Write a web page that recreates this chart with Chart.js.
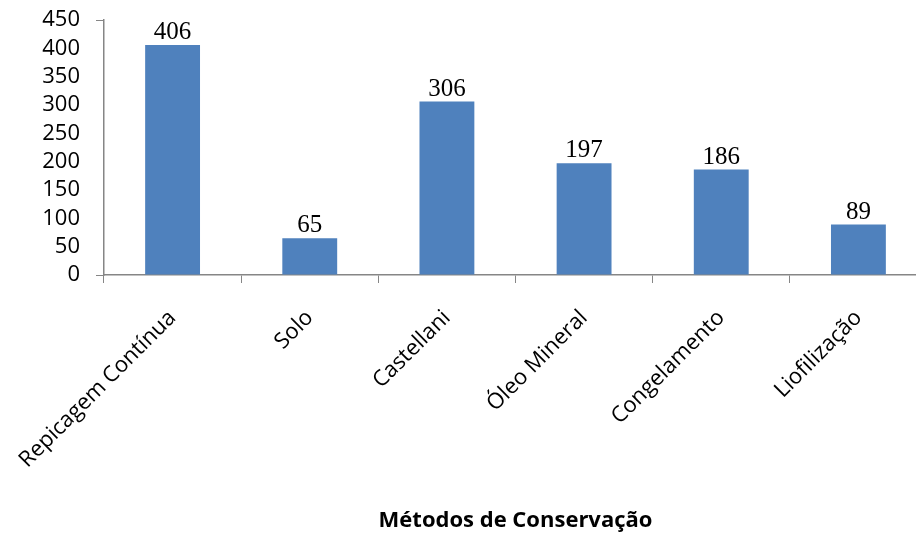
<!DOCTYPE html>
<html>
<head>
<meta charset="utf-8">
<script src="https://cdn.jsdelivr.net/npm/chart.js@4/dist/chart.umd.min.js"></script>
<style>
  html, body { margin: 0; padding: 0; background: #fff; overflow: hidden; }
  #wrap { width: 930px; height: 534px; }
</style>
</head>
<body>
<div id="wrap"><canvas id="grafico"></canvas></div>
<script>
const metodos = ['Repicagem Contínua', 'Solo', 'Castellani', 'Óleo Mineral', 'Congelamento', 'Liofilização'];
const quantidades = [406, 65, 306, 197, 186, 89];
const yTicks = [0, 50, 100, 150, 200, 250, 300, 350, 400, 450];
const tituloX = 'Métodos de Conservação';

const axisGray = '#868686';

// valores em cima das barras
const rotulos = {
  id: 'rotulos',
  afterDatasetsDraw(chart) {
    const ctx = chart.ctx;
    const meta = chart.getDatasetMeta(0);
    ctx.save();
    ctx.font = '25px "Liberation Serif"';
    ctx.fillStyle = '#000';
    ctx.textAlign = 'center';
    ctx.textBaseline = 'alphabetic';
    meta.data.forEach((bar, i) => {
      ctx.fillText(String(chart.data.datasets[0].data[i]), bar.x, bar.y - 6);
    });
    ctx.restore();
  }
};

window.addEventListener('load', () => {
  let grafico = document.getElementById('grafico').getContext('2d');
  new Chart(grafico, {
    type: 'bar',
    data: {
      labels: metodos,
      datasets: [{
        data: quantidades,
        backgroundColor: '#4F81BD',
        borderWidth: 0,
        barPercentage: 0.8,
        categoryPercentage: 0.5
      }]
    },
    options: {
      responsive: true,
      maintainAspectRatio: false,
      animation: false,
      layout: { padding: { top: 20, right: 3, left: 0, bottom: 0 } },
      plugins: { legend: { display: false }, tooltip: { enabled: false } },
      scales: {
        x: {
          grid: { display: true, drawOnChartArea: false, color: axisGray, tickLength: 8, offset: true },
          border: { color: axisGray, width: 1.5 },
          ticks: {
            color: '#000',
            font: { family: '"Open Sans"', size: 22 },
            maxRotation: 45, minRotation: 45,
            autoSkip: false,
            padding: 22
          },
          title: {
            display: true,
            text: tituloX,
            color: '#000',
            font: { family: '"Open Sans"', size: 22, weight: 'bold' },
            padding: { top: 0, bottom: 0 }
          },
          afterFit(scale) { scale.height = 259; scale.paddingLeft = 0; scale.paddingRight = 0; }
        },
        y: {
          min: 0, max: 450,
          afterBuildTicks(scale) { scale.ticks = yTicks.map(v => ({ value: v })); },
          grid: {
            drawOnChartArea: false,
            tickLength: 8,
            color: c => (c.tick && (c.tick.value === 450 || c.tick.value === 0)) ? axisGray : 'rgba(0,0,0,0)'
          },
          border: { color: axisGray, width: 1.5 },
          ticks: {
            color: '#000',
            font: { family: '"Open Sans"', size: 22, lineHeight: 1 },
            autoSkip: false,
            padding: 16
          },
          afterFit(scale) { scale.width = 104; scale.paddingTop = 0; scale.paddingBottom = 0; }
        }
      }
    },
    plugins: [rotulos]
  });
});
</script>
</body>
</html>
